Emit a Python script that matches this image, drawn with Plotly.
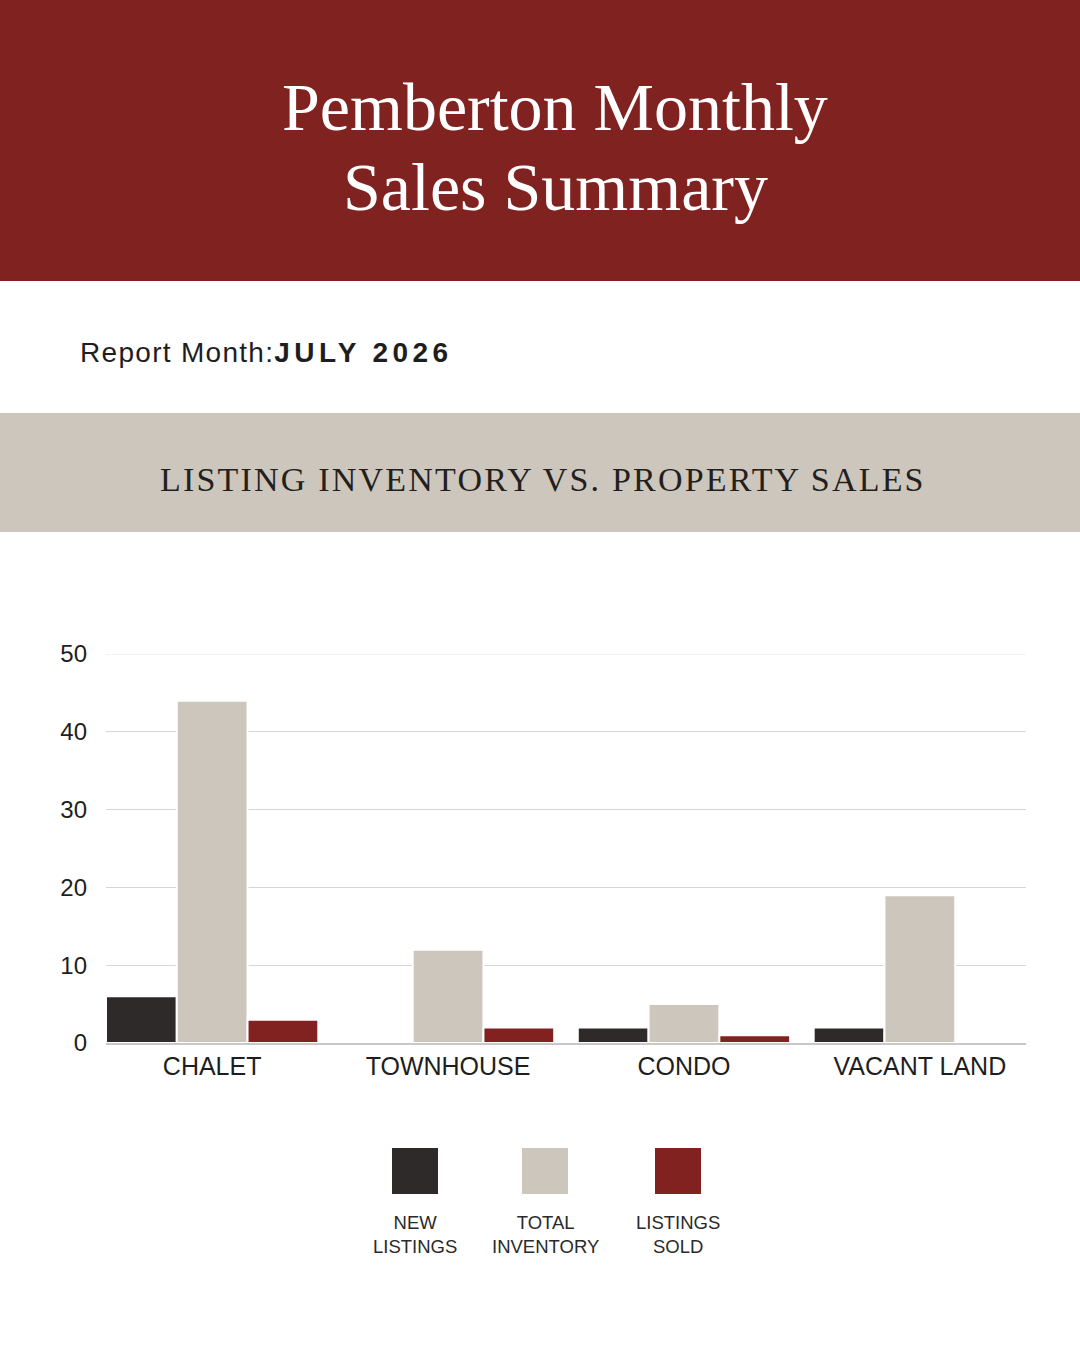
import plotly.graph_objects as go

categories = ["CHALET", "TOWNHOUSE", "CONDO", "VACANT LAND"]
series_names = ["NEW<br>LISTINGS", "TOTAL<br>INVENTORY", "LISTINGS<br>SOLD"]
new_listings = [6, 0, 2, 2]
total_inventory = [44, 12, 5, 19]
listings_sold = [3, 2, 1, 0]
y_ticks = [0, 10, 20, 30, 40, 50]

colors = ["#2E2A29", "#CDC6BC", "#812220"]
RED = "#80221F"
BAND = "#CDC6BC"

W, H = 1080, 1350
L, R, T, B = 106, 54, 654, 307

fig = go.Figure()
for name, vals, col in zip(series_names, [new_listings, total_inventory, listings_sold], colors):
    fig.add_trace(go.Bar(
        x=categories, y=vals, name=name.replace("<br>", " "),
        marker=dict(color=col, line=dict(color="white", width=2)),
        showlegend=False, hoverinfo="skip",
    ))

bargap = 0.1
fig.update_layout(
    width=W, height=H,
    margin=dict(l=L, r=R, t=T, b=B, pad=0),
    paper_bgcolor="white", plot_bgcolor="white",
    barmode="group", bargap=bargap, bargroupgap=0,
    xaxis=dict(
        range=[-0.5 + bargap / 2, len(categories) - 0.5 - bargap / 2],
        showgrid=False, showline=True, linecolor="#c8c8c8", linewidth=1.5,
        ticks="", tickfont=dict(family="Liberation Sans, Arial", size=25, color="#1e1e1e"),
        fixedrange=True,
    ),
    yaxis=dict(
        range=[0, 50], tickvals=y_ticks, ticks="",
        showgrid=True, gridcolor="#d6d6d6", gridwidth=1, zeroline=False,
        showline=False,
        tickfont=dict(family="Liberation Sans, Arial", size=24, color="#1e1e1e"),
        ticklabelstandoff=18,
        fixedrange=True,
    ),
    font=dict(family="Liberation Sans, Arial"),
)

pw, ph = W - L - R, H - T - B

def px(x):
    return (x - L) / pw

def py(y):
    return (H - B - y) / ph

shapes = [
    dict(type="rect", xref="paper", yref="paper", x0=px(0), x1=px(W), y0=py(281), y1=py(0),
         fillcolor=RED, line=dict(width=0), layer="below"),
    dict(type="rect", xref="paper", yref="paper", x0=px(0), x1=px(W), y0=py(532), y1=py(413),
         fillcolor=BAND, line=dict(width=0), layer="below"),
    dict(type="line", xref="paper", yref="y", x0=0, x1=1, y0=y_ticks[-1], y1=y_ticks[-1],
         line=dict(color="#ececec", width=1.5), layer="below"),
]

title_lines = ["Pemberton Monthly", "Sales Summary"]
annotations = []
for line, cy in zip(title_lines, [107, 187]):
    annotations.append(dict(text=line, xref="paper", yref="paper",
                            x=px(555), y=py(cy), xanchor="center", yanchor="middle", showarrow=False,
                            font=dict(family="Liberation Serif, DejaVu Serif", size=68, color="white")))

annotations += [
    dict(text='<span style="letter-spacing:1.3px">Report Month:</span>'
              '<b><span style="letter-spacing:4.4px">JULY 2026</span></b>',
         xref="paper", yref="paper", x=px(78), y=py(352), xanchor="left", yanchor="middle",
         showarrow=False, font=dict(family="Liberation Sans, Arial", size=28, color="#1e1e1e")),
    dict(text='<span style="letter-spacing:2.2px">LISTING INVENTORY VS. PROPERTY SALES</span>',
         xref="paper", yref="paper", x=px(543), y=py(479), xanchor="center", yanchor="middle",
         showarrow=False, font=dict(family="Liberation Serif, DejaVu Serif", size=34, color="#231f1e")),
]

legend_x = [415, 545, 678]
for cx, name, col in zip(legend_x, series_names, colors):
    shapes.append(dict(type="rect", xref="paper", yref="paper",
                       x0=px(cx - 23), x1=px(cx + 23), y0=py(1194), y1=py(1148),
                       fillcolor=col, line=dict(width=0)))
    annotations.append(dict(text=name,
                            xref="paper", yref="paper", x=px(cx), y=py(1234),
                            xanchor="center", yanchor="middle", showarrow=False, align="center",
                            font=dict(family="Liberation Sans, Arial", size=18.5, color="#2a2a2a")))

fig.update_layout(shapes=shapes, annotations=annotations)
fig.write_html("out.html", config={"displayModeBar": False},
               post_script="document.body.style.margin='0';document.body.style.padding='0';")
